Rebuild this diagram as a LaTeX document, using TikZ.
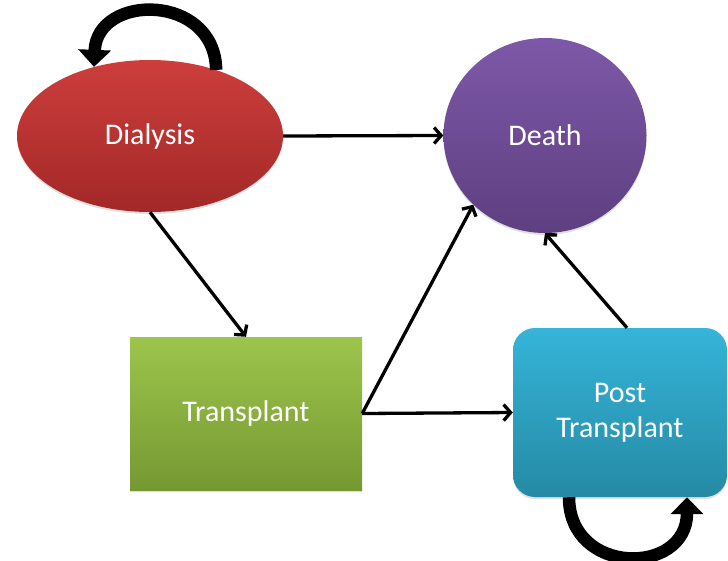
\documentclass[tikz,border=0pt]{standalone}
\usepackage{fontspec}
\setmainfont{Carlito}
\usetikzlibrary{arrows.meta,shapes.geometric,shadows}
\definecolor{redtop}{RGB}{204,62,60}
\definecolor{redbot}{RGB}{163,40,40}
\definecolor{purtop}{RGB}{126,88,168}
\definecolor{purbot}{RGB}{94,63,128}
\definecolor{grntop}{RGB}{157,197,76}
\definecolor{grnbot}{RGB}{118,152,50}
\definecolor{blutop}{RGB}{53,180,217}
\definecolor{blubot}{RGB}{37,138,164}
\tikzset{
  statebox/.style={inner sep=0pt, text=white, font=\fontsize{30}{36}\selectfont,
    drop shadow={shadow xshift=0pt, shadow yshift=-2pt, opacity=0.25}},
  conn/.style={line width=3.3pt, -{Straight Barb[length=7pt,width=16pt]}},
  selfloop/.style={line width=12.5pt, -{Triangle[length=17pt,width=32pt]}}
}
\begin{document}
\begin{tikzpicture}[x=1pt,y=-1pt]
\useasboundingbox (0,0) rectangle (728,560);
\node[statebox, ellipse, minimum width=266pt, minimum height=152pt,
      top color=redtop, bottom color=redbot] (dial) at (150,136) {Dialysis};
\node[statebox, ellipse, minimum width=203pt, minimum height=195pt,
      top color=purtop, bottom color=purbot] (death) at (545,135.5) {Death};
\node[statebox, rectangle, minimum width=232pt, minimum height=153pt,
      top color=grntop, bottom color=grnbot] (trans) at (246,413.5) {Transplant};
\node[statebox, rectangle, rounded corners=22pt, minimum width=214pt, minimum height=169pt,
      align=center, top color=blutop, bottom color=blubot] (post) at (620,412.5) {Post\\[-1pt]Transplant};

\draw[conn] (dial.east) -- (death.west);
\draw[conn] (dial.south) -- (trans.north);
\draw[conn] (trans.east) -- (death.224);
\draw[conn] (trans.east) -- (post.west);
\draw[conn] ([xshift=7pt]post.north) -- (death.south);

\draw[selfloop] (dial.45) .. controls (215,-7) and (97,-7) .. (dial.129);
\draw[selfloop] ([xshift=-51pt]post.south) .. controls (569,576) and (687,576) .. ([xshift=67pt]post.south);
\end{tikzpicture}
\end{document}
